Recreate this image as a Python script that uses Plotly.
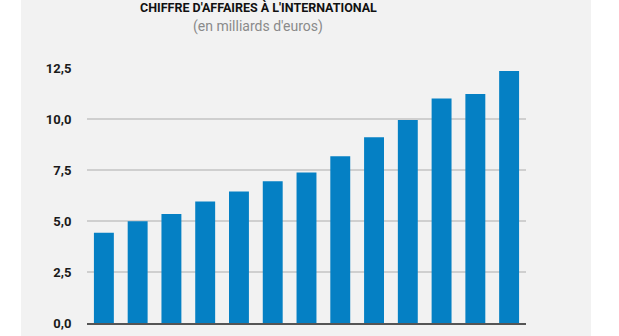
import plotly.graph_objects as go

# Chiffre d'affaires à l'international, en milliards d'euros
annees = [2007, 2008, 2009, 2010, 2011, 2012, 2013, 2014, 2015, 2016, 2017, 2018, 2019]
chiffre_affaires = [4.43, 4.99, 5.34, 5.95, 6.45, 6.95, 7.38, 8.17, 9.1, 9.95, 11.0, 11.23, 12.35]
graduations_y = [0, 2.5, 5.0, 7.5, 10.0, 12.5]
annees_affichees = [2007, 2009, 2011, 2013, 2015, 2017, 2019]

W, H = 619, 336
ML, MR, MT, MB = 87, 93, 68, 13
PW = W - ML - MR
PH = H - MT - MB

def px_to_paper_x(px):
    return (px - ML) / PW

def px_to_paper_y(py):
    return (H - MB - py) / PH

fig = go.Figure()
fig.add_trace(go.Bar(
    x=annees,
    y=chiffre_affaires,
    marker=dict(color="#0580c4", line=dict(width=0)),
    width=0.59,
    hoverinfo="x+y",
))

# grey card behind the chart
fig.add_shape(
    type="rect", xref="paper", yref="paper", layer="below",
    x0=px_to_paper_x(21), x1=px_to_paper_x(591),
    y0=px_to_paper_y(H + 5), y1=px_to_paper_y(-5),
    fillcolor="#f2f2f2", line=dict(width=0),
)

fig.add_annotation(
    text="<b>CHIFFRE D'AFFAIRES À L'INTERNATIONAL</b>",
    xref="paper", yref="paper",
    x=px_to_paper_x(258), y=px_to_paper_y(0),
    xanchor="center", yanchor="top", yshift=2,
    showarrow=False,
    font=dict(family="Roboto", size=12.5, color="#111111"),
)
fig.add_annotation(
    text="(en milliards d'euros)",
    xref="paper", yref="paper",
    x=px_to_paper_x(258), y=px_to_paper_y(16),
    xanchor="center", yanchor="top",
    showarrow=False,
    font=dict(family="Roboto", size=14, color="#8a8a8a"),
)

fig.update_layout(
    width=W, height=H,
    margin=dict(l=ML, r=MR, t=MT, b=MB, pad=0),
    paper_bgcolor="white",
    plot_bgcolor="rgba(0,0,0,0)",
    separators=", ",
    showlegend=False,
    font=dict(family="Roboto", size=13, color="#1a1a1a"),
    xaxis=dict(
        range=[2006.5, 2019.5],
        tickvals=annees_affichees,
        ticktext=[f"<b>{a}</b>" for a in annees_affichees],
        showgrid=False,
        showline=True, linecolor="#555555", linewidth=1.5,
        ticks="outside", ticklen=8, tickcolor="rgba(0,0,0,0)",
        zeroline=False, automargin=False,
    ),
    yaxis=dict(
        range=[0, 12.5],
        tickvals=graduations_y,
        ticktext=[f"<b>{v:.1f}</b>".replace(".", ",") for v in graduations_y],
        showgrid=True, gridcolor="#cfcfcf", gridwidth=1.5,
        zeroline=False, showline=False,
        ticks="outside", ticklen=12, tickcolor="rgba(0,0,0,0)",
        automargin=False,
    ),
)

fig.write_html("out.html")
